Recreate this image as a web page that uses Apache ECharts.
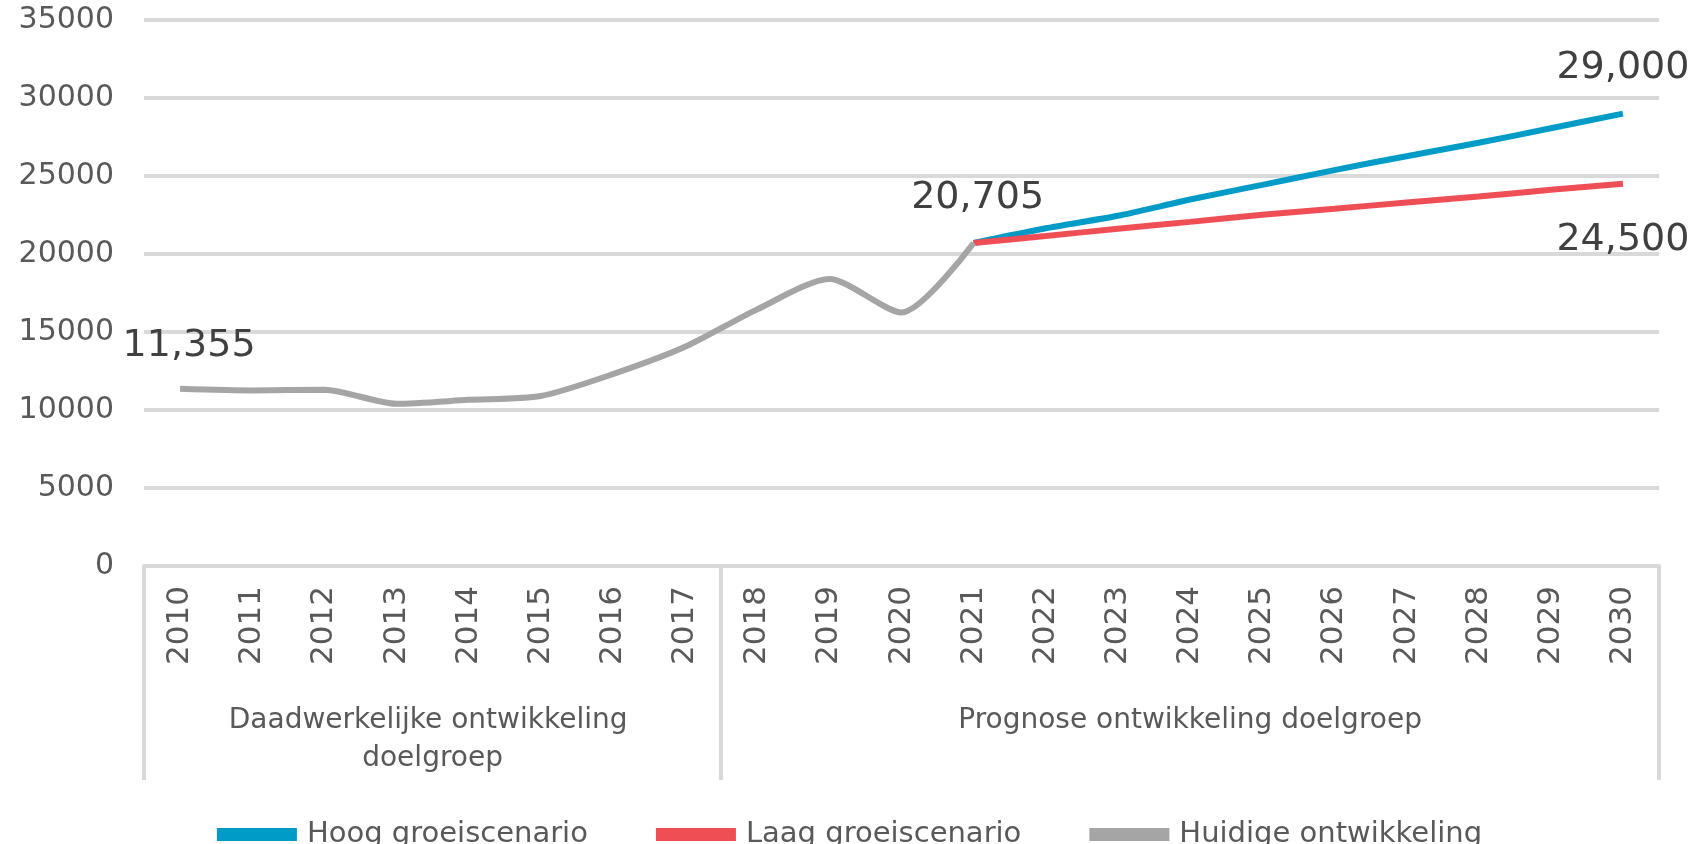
<!DOCTYPE html>
<html>
<head>
<meta charset="utf-8">
<script src="https://cdn.jsdelivr.net/npm/echarts@6/dist/echarts.min.js"></script>
<style>
  html, body { margin: 0; padding: 0; background: #fff; }
  #chart { width: 1699px; height: 844px; }
</style>
</head>
<body>
<div id="chart"></div>
<script>
// years on the category axis
const years = ["2010", "2011", "2012", "2013", "2014", "2015", "2016", "2017", "2018", "2019", "2020",
  "2021", "2022", "2023", "2024", "2025", "2026", "2027", "2028", "2029", "2030"];

// group labels below the years and how many years each spans
const groupNames = ["Daadwerkelijke ontwikkeling doelgroep", "Prognose ontwikkeling doelgroep"];
const groupSizes = [8, 13];

// series values
const huidige = [11355, 11250, 11300, 10400, 10650, 10900, 12300, 14050, 16450, 18400, 16250, 20705,
  null, null, null, null, null, null, null, null, null];
const hoog = [null, null, null, null, null, null, null, null, null, null, null, 20705,
  21650, 22450, 23490, 24430, 25380, 26270, 27130, 28060, 29000];
const laag = [null, null, null, null, null, null, null, null, null, null, null, 20705,
  21150, 21620, 22060, 22510, 22900, 23300, 23680, 24120, 24500];

// which points carry a value label
const huidigeLabels = [0, 11];
const hoogLabels = [20];
const laagLabels = [20];

const yTicks = [0, 5000, 10000, 15000, 20000, 25000, 30000, 35000];

const textColor = "#595959";
const gridColor = "#d9d9d9";
const font = "DejaVu Sans";

// half-band edges for the group axis: label in the middle of a group, tick on its borders
const groupAxis = [];
const groupTickIdx = [0];
const groupLabelIdx = [];
let pos = 0;
groupSizes.forEach(function (n) {
  groupLabelIdx.push(pos + n);
  pos += n * 2;
  groupTickIdx.push(pos);
});
for (let i = 0; i <= pos; i++) {
  const g = groupLabelIdx.indexOf(i);
  groupAxis.push(g >= 0 ? groupNames[g] : "");
}

function fmt(v) {
  return Number(v).toLocaleString("en-US");
}

// turn a value array into data items, with a label on the chosen points
function withLabels(values, idx, position, distance, offsets) {
  return values.map(function (v, i) {
    const k = idx.indexOf(i);
    if (k < 0 || v == null) return v;
    return {
      value: v,
      label: {
        show: true,
        position: position,
        distance: distance,
        offset: (offsets && offsets[k]) || [0, 0],
        fontFamily: font,
        fontSize: 38,
        color: "#404040",
        formatter: function (p) { return fmt(p.value); }
      }
    };
  });
}

function lineSeries(name, data, color) {
  return {
    name: name,
    type: "line",
    data: data,
    smooth: 0.25,
    symbol: "circle",
    symbolSize: 0,
    showSymbol: true,
    lineStyle: { color: color, width: 6 },
    itemStyle: { color: color },
    label: { show: false },
    emphasis: { disabled: true }
  };
}

const chart = echarts.init(document.getElementById("chart"));
chart.setOption({
  animation: false,
  backgroundColor: "#fff",
  grid: { left: 144, right: 40, top: 20, bottom: 278 },
  legend: {
    top: 815,
    left: "center",
    icon: "rect",
    itemWidth: 80,
    itemHeight: 13,
    itemGap: 68,
    textStyle: { fontFamily: font, fontSize: 29, color: textColor, padding: [0, 0, 0, 5] },
    data: ["Hoog groeiscenario", "Laag groeiscenario", "Huidige ontwikkeling"]
  },
  xAxis: [
    {
      type: "category",
      data: years,
      boundaryGap: true,
      axisLine: { show: true, lineStyle: { color: gridColor, width: 4 } },
      axisTick: { show: false },
      axisLabel: {
        rotate: 90,
        margin: 20,
        interval: 0,
        fontFamily: font,
        fontSize: 31,
        color: textColor
      }
    },
    {
      type: "category",
      data: groupAxis,
      boundaryGap: false,
      position: "bottom",
      axisLine: { show: false },
      axisTick: {
        show: true,
        length: 214,
        interval: function (i) { return groupTickIdx.indexOf(i) >= 0; },
        lineStyle: { color: gridColor, width: 4 }
      },
      axisLabel: {
        interval: function (i) { return groupLabelIdx.indexOf(i) >= 0; },
        margin: 136,
        fontFamily: font,
        fontSize: 28,
        lineHeight: 38,
        width: 540,
        overflow: "break",
        color: textColor
      }
    }
  ],
  yAxis: {
    type: "value",
    min: yTicks[0],
    max: yTicks[yTicks.length - 1],
    interval: yTicks[1] - yTicks[0],
    axisLine: { show: false },
    axisTick: { show: false },
    splitLine: { lineStyle: { color: gridColor, width: 4 } },
    axisLabel: {
      margin: 30,
      fontFamily: font,
      fontSize: 30,
      color: textColor,
      formatter: function (v) { return String(v); }
    }
  },
  series: [
    lineSeries("Hoog groeiscenario", withLabels(hoog, hoogLabels, "top", 26), "#009cc7"),
    lineSeries("Laag groeiscenario", withLabels(laag, laagLabels, "bottom", 37), "#f04e55"),
    lineSeries("Huidige ontwikkeling", withLabels(huidige, huidigeLabels, "top", 26, [[9, 2], [4, 0]]), "#a5a5a5")
  ]
});
</script>
</body>
</html>
